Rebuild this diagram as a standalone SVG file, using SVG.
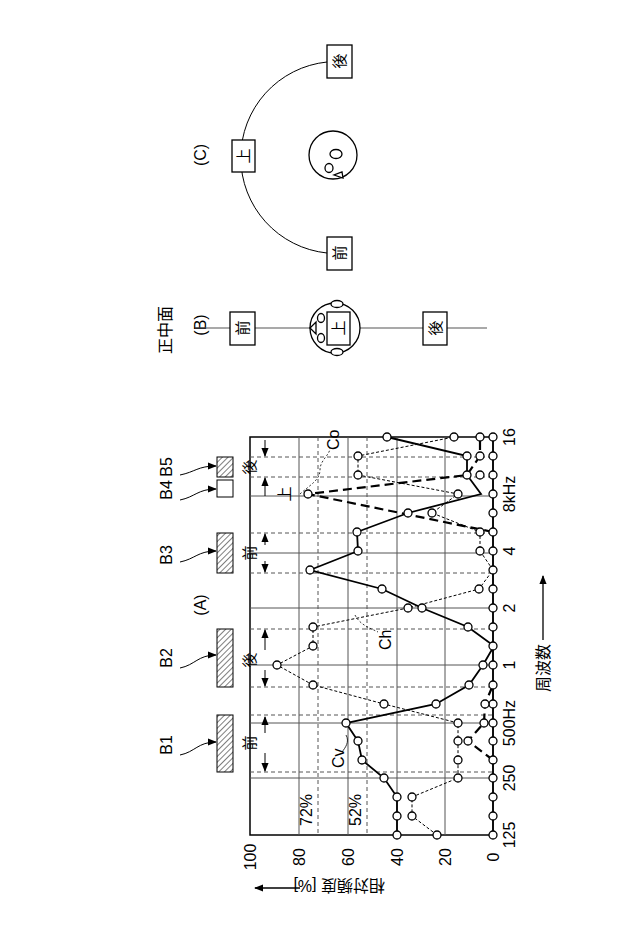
<svg xmlns="http://www.w3.org/2000/svg" width="640" height="949" viewBox="0 0 640 949">
<style>
text{font-family:"Liberation Sans","Noto Sans CJK JP",sans-serif;fill:#000}
.t{font-size:16px}
.s{font-size:15px}
.g{stroke:#555;stroke-width:1;fill:none}
.gd{stroke:#555;stroke-width:1;fill:none;stroke-dasharray:4 3}
.bx{fill:#fff;stroke:#000;stroke-width:1.3}
.ar{stroke:#000;stroke-width:1;fill:none}
</style>
<defs>
<pattern id="h" width="4" height="4" patternUnits="userSpaceOnUse" patternTransform="rotate(45)"><line x1="0" y1="0" x2="0" y2="4" stroke="#000" stroke-width="1"/></pattern>
<marker id="a" viewBox="0 0 10 10" refX="9" refY="5" markerWidth="7" markerHeight="7" orient="auto-start-reverse"><path d="M0,1 L10,5 L0,9z" fill="#000"/></marker>
<marker id="b" viewBox="0 0 10 10" refX="9" refY="5" markerWidth="9" markerHeight="9" markerUnits="userSpaceOnUse" orient="auto"><path d="M0,1 L10,5 L0,9z" fill="#000"/></marker>
</defs>
<rect width="640" height="949" fill="#fff"/>
<text class="t" transform="translate(206,605) rotate(-90)" text-anchor="middle">(A)</text>
<text class="t" transform="translate(206,325) rotate(-90)" text-anchor="middle">(B)</text>
<text class="t" transform="translate(206,155) rotate(-90)" text-anchor="middle">(C)</text>
<g id="grid">
<rect x="250" y="437" width="243" height="398" fill="none" stroke="#000" stroke-width="1.5"/>
<path class="g" d="M299,437V835M348,437V835M397,437V835M445,437V835M250,778H493M250,723H493M250,665H493M250,608H493M250,553H493M250,496H493"/>
<path class="gd" d="M318,437V835M367,437V835M250,772H493M250,715H493M250,687H493M250,629H493M250,573H493M250,533H493M250,477H493M250,457H493"/>
</g>
<g id="bands">
<rect x="217" y="715" width="16" height="57" fill="url(#h)" stroke="#000"/>
<rect x="217" y="629" width="16" height="58" fill="url(#h)" stroke="#000"/>
<rect x="217" y="533" width="16" height="40" fill="url(#h)" stroke="#000"/>
<rect x="217" y="480" width="16" height="17" fill="#fff" stroke="#000"/>
<rect x="217" y="457" width="16" height="20" fill="url(#h)" stroke="#000"/>
<path class="ar" d="M180,755 C195,752 198,742 216,742" marker-end="url(#b)"/>
<path class="ar" d="M180,668 C195,665 198,655 216,655" marker-end="url(#b)"/>
<path class="ar" d="M180,562 C195,559 198,551 216,551" marker-end="url(#b)"/>
<path class="ar" d="M180,500 C195,497 198,489 216,489" marker-end="url(#b)"/>
<path class="ar" d="M180,475 C195,472 198,466 216,466" marker-end="url(#b)"/>
<line class="ar" x1="265" y1="733" x2="265" y2="717" marker-end="url(#b)"/>
<line class="ar" x1="265" y1="753" x2="265" y2="771" marker-end="url(#b)"/>
<line class="ar" x1="265" y1="650" x2="265" y2="630" marker-end="url(#b)"/>
<line class="ar" x1="265" y1="670" x2="265" y2="686" marker-end="url(#b)"/>
<line class="ar" x1="265" y1="545" x2="265" y2="534" marker-end="url(#b)"/>
<line class="ar" x1="265" y1="561" x2="265" y2="572" marker-end="url(#b)"/>
<line class="ar" x1="265" y1="440" x2="265" y2="456" marker-end="url(#b)"/>
<line class="ar" x1="265" y1="496" x2="265" y2="478" marker-end="url(#b)"/>
<text class="t" transform="translate(172,745) rotate(-90)" text-anchor="middle">B1</text>
<text class="t" transform="translate(172,658) rotate(-90)" text-anchor="middle">B2</text>
<text class="t" transform="translate(172,555) rotate(-90)" text-anchor="middle">B3</text>
<text class="t" transform="translate(172,490) rotate(-90)" text-anchor="middle">B4</text>
<text class="t" transform="translate(172,467) rotate(-90)" text-anchor="middle">B5</text>
<text class="s" transform="translate(255,743) rotate(-90)" text-anchor="middle">前</text>
<text class="s" transform="translate(255,660) rotate(-90)" text-anchor="middle">後</text>
<text class="s" transform="translate(255,553) rotate(-90)" text-anchor="middle">前</text>
<text class="s" transform="translate(255,467) rotate(-90)" text-anchor="middle">後</text>
<text class="s" transform="translate(290,494) rotate(-90)" text-anchor="middle">上</text>
</g>
<g id="series" fill="none" stroke="#000">
<polyline stroke-width="1.5" points="493,835 493,437"/>
<polyline stroke-width="1" stroke-dasharray="3 2" points="437,835 412,816 412,797 458,778 458,760 458,741 458,723 384,704 313,685 277,665 313,646 313,627 408,608 479,589 493,570 480,551 480,532 432,513 458,494 358,475 358,456 454,437"/>
<polyline stroke-width="2.2" stroke-dasharray="9 5" points="493,760 468,741 484,723 485,704 493,685"/>
<polyline stroke-width="2.2" stroke-dasharray="9 5" points="493,532 308,494 467,475 480,456 480,437"/>
<polyline stroke-width="1.8" points="397,835 397,816 397,797 384,778 362,760 358,741 346,723 436,704 469,685 483,665 494,646 468,627 422,608 382,589 310,570 358,551 357,532 408,513 481,494 467,475 467,456 387,437"/>
<path stroke-width="0.8" stroke-dasharray="2 2" d="M300,494 C310,485 320,480 320,470 C320,460 330,455 330,448"/>
<path stroke-width="0.8" d="M346,735 C350,742 345,748 342,752"/>
<path stroke-width="0.8" stroke-dasharray="2 2" d="M355,615 C360,625 370,628 378,632"/>
</g>
<g id="points" fill="#fff" stroke="#000" stroke-width="1.3">
<circle cx="493" cy="835" r="4"/><circle cx="493" cy="816" r="4"/><circle cx="493" cy="797" r="4"/><circle cx="493" cy="778" r="4"/><circle cx="493" cy="760" r="4"/><circle cx="493" cy="741" r="4"/><circle cx="493" cy="723" r="4"/><circle cx="493" cy="704" r="4"/><circle cx="493" cy="685" r="4"/><circle cx="493" cy="665" r="4"/><circle cx="493" cy="646" r="4"/><circle cx="493" cy="627" r="4"/><circle cx="493" cy="608" r="4"/><circle cx="493" cy="589" r="4"/><circle cx="493" cy="570" r="4"/><circle cx="493" cy="551" r="4"/><circle cx="493" cy="532" r="4"/><circle cx="493" cy="513" r="4"/><circle cx="493" cy="494" r="4"/><circle cx="493" cy="475" r="4"/><circle cx="493" cy="456" r="4"/><circle cx="493" cy="437" r="4"/>
<circle cx="437" cy="835" r="4"/><circle cx="412" cy="816" r="4"/><circle cx="412" cy="797" r="4"/><circle cx="458" cy="778" r="4"/><circle cx="458" cy="760" r="4"/><circle cx="458" cy="741" r="4"/><circle cx="458" cy="723" r="4"/><circle cx="384" cy="704" r="4"/><circle cx="313" cy="685" r="4"/><circle cx="277" cy="665" r="4"/><circle cx="313" cy="646" r="4"/><circle cx="313" cy="627" r="4"/><circle cx="408" cy="608" r="4"/><circle cx="479" cy="589" r="4"/><circle cx="480" cy="551" r="4"/><circle cx="480" cy="532" r="4"/><circle cx="432" cy="513" r="4"/><circle cx="458" cy="494" r="4"/><circle cx="358" cy="475" r="4"/><circle cx="358" cy="456" r="4"/><circle cx="454" cy="437" r="4"/>
<circle cx="468" cy="741" r="4"/><circle cx="484" cy="723" r="4"/><circle cx="485" cy="704" r="4"/><circle cx="308" cy="494" r="4"/><circle cx="480" cy="475" r="4"/><circle cx="480" cy="456" r="4"/><circle cx="480" cy="437" r="4"/>
<circle cx="397" cy="835" r="4"/><circle cx="397" cy="816" r="4"/><circle cx="397" cy="797" r="4"/><circle cx="384" cy="778" r="4"/><circle cx="362" cy="760" r="4"/><circle cx="358" cy="741" r="4"/><circle cx="346" cy="723" r="4"/><circle cx="436" cy="704" r="4"/><circle cx="469" cy="685" r="4"/><circle cx="483" cy="665" r="4"/><circle cx="468" cy="627" r="4"/><circle cx="422" cy="608" r="4"/><circle cx="382" cy="589" r="4"/><circle cx="310" cy="570" r="4"/><circle cx="358" cy="551" r="4"/><circle cx="357" cy="532" r="4"/><circle cx="408" cy="513" r="4"/><circle cx="467" cy="475" r="4"/><circle cx="467" cy="456" r="4"/><circle cx="387" cy="437" r="4"/>
</g>
<g id="axislabels">
<text class="t" transform="translate(339,450) rotate(-90)">Co</text>
<text class="t" transform="translate(344,768) rotate(-90)">Cv</text>
<text class="t" transform="translate(391,650) rotate(-90)">Ch</text>
<text class="t" transform="translate(312,826) rotate(-90)">72%</text>
<text class="t" transform="translate(361,826) rotate(-90)">52%</text>
<text class="t" transform="translate(256,857) rotate(-90)" text-anchor="middle">100</text>
<text class="t" transform="translate(305,857) rotate(-90)" text-anchor="middle">80</text>
<text class="t" transform="translate(354,857) rotate(-90)" text-anchor="middle">60</text>
<text class="t" transform="translate(403,857) rotate(-90)" text-anchor="middle">40</text>
<text class="t" transform="translate(451,857) rotate(-90)" text-anchor="middle">20</text>
<text class="t" transform="translate(499,857) rotate(-90)" text-anchor="middle">0</text>
<text class="t" transform="translate(515,835) rotate(-90)" text-anchor="middle">125</text>
<text class="t" transform="translate(515,778) rotate(-90)" text-anchor="middle">250</text>
<text class="t" transform="translate(515,723) rotate(-90)" text-anchor="middle">500Hz</text>
<text class="t" transform="translate(515,665) rotate(-90)" text-anchor="middle">1</text>
<text class="t" transform="translate(515,608) rotate(-90)" text-anchor="middle">2</text>
<text class="t" transform="translate(515,551) rotate(-90)" text-anchor="middle">4</text>
<text class="t" transform="translate(515,494) rotate(-90)" text-anchor="middle">8kHz</text>
<text class="t" transform="translate(515,437) rotate(-90)" text-anchor="middle">16</text>
<text class="t" transform="translate(549,692) rotate(-90)">周波数</text>
<line x1="543" y1="640" x2="543" y2="576" stroke="#000" stroke-width="1.3" marker-end="url(#a)"/>
<text class="t" transform="translate(385,880) rotate(180)">相対頻度 [%]</text>
<line x1="300" y1="888" x2="255" y2="888" stroke="#000" stroke-width="1.3" marker-end="url(#a)"/>
</g>
<g id="panelB">
<line x1="195" y1="328" x2="487" y2="328" stroke="#555" stroke-width="1.2"/>
<text class="t" transform="translate(171,330) rotate(-90)" text-anchor="middle">正中面</text>
<rect x="230" y="312" width="25" height="33" class="bx"/>
<text class="s" transform="translate(248,328) rotate(-90)" text-anchor="middle">前</text>
<circle cx="335" cy="328" r="25" class="bx"/>
<ellipse cx="337" cy="304" rx="6" ry="3.5" class="bx"/>
<ellipse cx="337" cy="352" rx="6" ry="3.5" class="bx"/>
<ellipse cx="321" cy="318" rx="3.5" ry="4.5" class="bx"/>
<ellipse cx="321" cy="338" rx="3.5" ry="4.5" class="bx"/>
<path d="M310,328 L316,322 L316,334z" class="bx"/>
<rect x="327" y="312" width="23" height="33" class="bx"/>
<text class="s" transform="translate(344,328) rotate(-90)" text-anchor="middle">上</text>
<rect x="423" y="312" width="24" height="33" class="bx"/>
<text class="s" transform="translate(441,328) rotate(-90)" text-anchor="middle">後</text>
</g>
<g id="panelC">
<path d="M327,62 A96,96 0 0 0 327,253" fill="none" stroke="#000" stroke-width="1"/>
<rect x="327" y="45" width="25" height="33" class="bx"/>
<text class="s" transform="translate(345,61) rotate(-90)" text-anchor="middle">後</text>
<rect x="232" y="140" width="23" height="32" class="bx"/>
<text class="s" transform="translate(249,156) rotate(-90)" text-anchor="middle">上</text>
<rect x="327" y="237" width="25" height="33" class="bx"/>
<text class="s" transform="translate(345,253) rotate(-90)" text-anchor="middle">前</text>
<ellipse cx="333" cy="155" rx="24" ry="24" class="bx"/>
<ellipse cx="336" cy="154" rx="6" ry="4.5" class="bx"/>
<ellipse cx="329" cy="168" rx="4" ry="4.5" class="bx"/>
<path d="M334,175 L343,178 L342,172z" class="bx"/>
</g>
</svg>
